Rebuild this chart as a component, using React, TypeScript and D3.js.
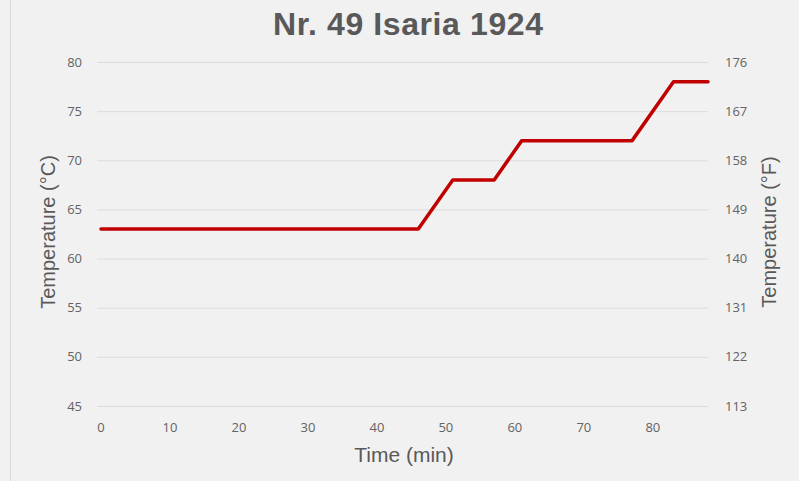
import React, { useRef, useEffect } from 'react';
import * as d3 from 'd3';

// mash schedule: time (min) vs temperature (°C)
const times = [0, 46, 51, 57, 61, 77, 83, 88];
const tempsC = [63, 63, 68, 68, 72, 72, 78, 78];
const xTicks = [0, 10, 20, 30, 40, 50, 60, 70, 80];
const cTicks = [45, 50, 55, 60, 65, 70, 75, 80];
const fTickLabels = ['113', '122', '131', '140', '149', '158', '167', '176'];

const title = 'Nr. 49 Isaria 1924';

const App = () => {
    const width = 799;
    const height = 481;
    const margin = { left: 101, right: 92, top: 62, bottom: 75 };
    const ref = useRef<SVGSVGElement | null>(null);

    useEffect(() => {
        if (!ref.current) return;
        const svg = d3.select(ref.current);
        svg.selectAll('*').remove();

        svg.append('rect')
            .attr('width', width)
            .attr('height', height)
            .attr('fill', '#f1f1f1');

        // thin frame line on the left
        svg.append('line')
            .attr('x1', 10.5).attr('x2', 10.5)
            .attr('y1', 0).attr('y2', height)
            .attr('stroke', '#d9d9d9');

        const x = d3.scaleLinear()
            .domain([0, 88])
            .range([margin.left, width - margin.right + 1]);

        const y = d3.scaleLinear()
            .domain([45, 80])
            .range([height - margin.bottom, margin.top]);

        // gridlines
        svg.append('g')
            .selectAll('line')
            .data(cTicks)
            .join('line')
            .attr('x1', margin.left - 4)
            .attr('x2', x(88))
            .attr('y1', d => y(d) + 0.5)
            .attr('y2', d => y(d) + 0.5)
            .attr('stroke', '#dcdcdc')
            .attr('stroke-width', 1);

        const tickFont = "'Open Sans', 'DejaVu Sans', sans-serif";

        // left axis labels
        svg.append('g')
            .selectAll('text')
            .data(cTicks)
            .join('text')
            .attr('x', 82)
            .attr('y', d => y(d))
            .attr('dy', '0.35em')
            .attr('text-anchor', 'end')
            .attr('font-family', tickFont)
            .attr('font-size', 13)
            .attr('fill', '#636363')
            .text(d => d);

        // right axis labels (°F)
        svg.append('g')
            .selectAll('text')
            .data(cTicks)
            .join('text')
            .attr('x', 725)
            .attr('y', d => y(d))
            .attr('dy', '0.35em')
            .attr('text-anchor', 'start')
            .attr('font-family', tickFont)
            .attr('font-size', 13)
            .attr('fill', '#636363')
            .text((d, i) => fTickLabels[i]);

        // x axis labels
        svg.append('g')
            .selectAll('text')
            .data(xTicks)
            .join('text')
            .attr('x', d => x(d))
            .attr('y', 427)
            .attr('dy', '0.35em')
            .attr('text-anchor', 'middle')
            .attr('font-family', tickFont)
            .attr('font-size', 13)
            .attr('fill', '#636363')
            .text(d => d);

        // the line
        const line = d3.line<number>()
            .x((d, i) => x(times[i]))
            .y(d => y(d));

        svg.append('path')
            .datum(tempsC)
            .attr('d', line)
            .attr('fill', 'none')
            .attr('stroke', '#c00000')
            .attr('stroke-width', 3.5)
            .attr('stroke-linejoin', 'round')
            .attr('stroke-linecap', 'round');

        const labelFont = "'Liberation Sans', Arial, sans-serif";

        svg.append('text')
            .attr('x', 408)
            .attr('y', 35)
            .attr('text-anchor', 'middle')
            .attr('font-family', labelFont)
            .attr('font-weight', 'bold')
            .attr('font-size', 32)
            .attr('textLength', 270)
            .attr('fill', '#595959')
            .text(title);

        svg.append('text')
            .attr('x', 404)
            .attr('y', 462)
            .attr('text-anchor', 'middle')
            .attr('font-family', labelFont)
            .attr('font-size', 21)
            .attr('fill', '#595959')
            .text('Time (min)');

        svg.append('text')
            .attr('transform', 'translate(55, 232) rotate(-90)')
            .attr('text-anchor', 'middle')
            .attr('font-family', labelFont)
            .attr('font-size', 20)
            .attr('fill', '#595959')
            .text('Temperature (°C)');

        svg.append('text')
            .attr('transform', 'translate(776, 232) rotate(-90)')
            .attr('text-anchor', 'middle')
            .attr('font-family', labelFont)
            .attr('font-size', 20)
            .attr('fill', '#595959')
            .text('Temperature (°F)');
    }, []);

    return (
        <div style={{ position: 'fixed', left: 0, top: 0 }}>
            <svg ref={ref} width={width} height={height} style={{ display: 'block' }} />
        </div>
    );
};

export default App;
